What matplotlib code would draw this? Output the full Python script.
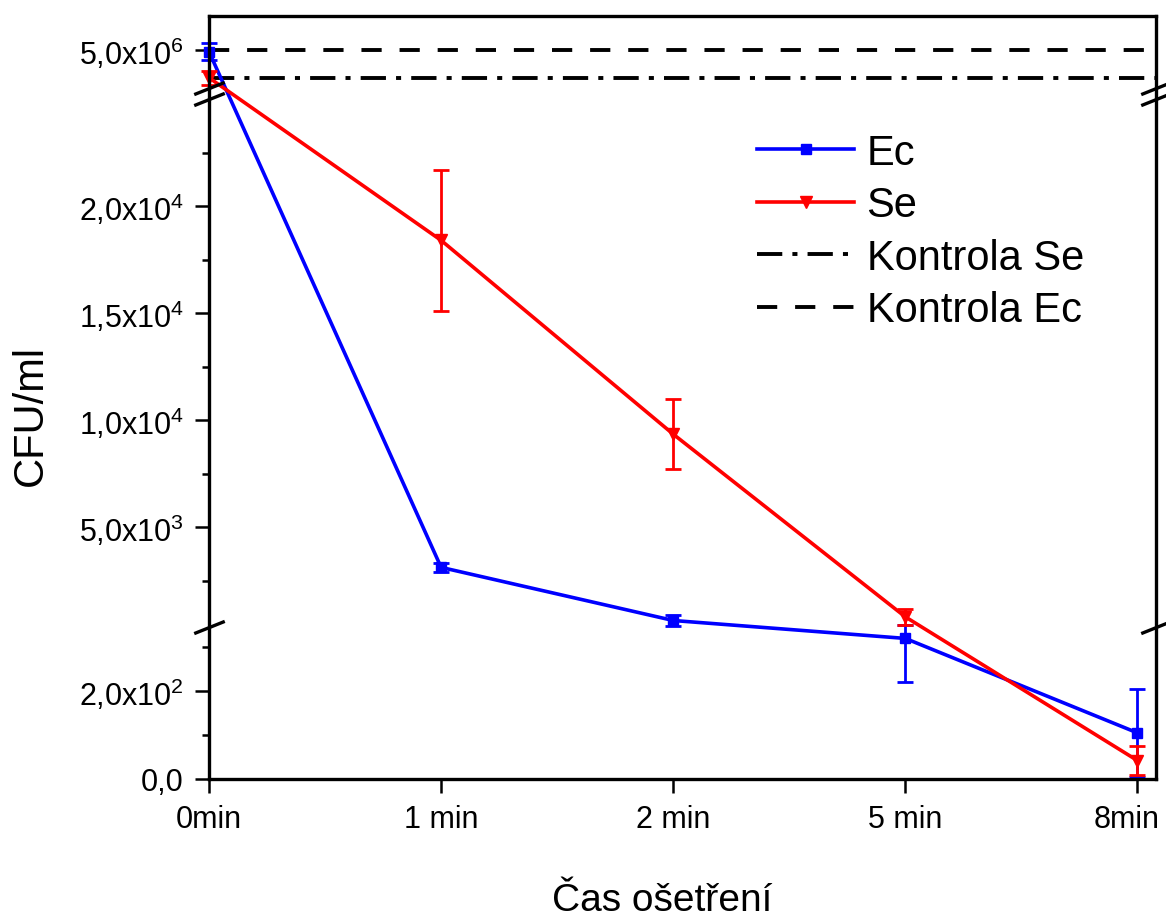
import numpy as np
import matplotlib
matplotlib.use('Agg')
from matplotlib import pyplot as plt
from matplotlib.transforms import blended_transform_factory, ScaledTranslation

plt.rcParams['font.family'] = ['Liberation Sans', 'DejaVu Sans']
plt.rcParams['mathtext.fontset'] = 'custom'
plt.rcParams['mathtext.rm'] = 'Liberation Sans'
plt.rcParams['mathtext.default'] = 'regular'

# data
times = ['0min', '1 min', '2 min', '5 min', '8min']
ec = [4.98e6, 3130, 650, 320, 105]
ec_err = [0.12e6, 200, 250, 100, 100]
se = [4.6e6, 18400, 9350, 820, 42]
se_err = [0.1e6, 3300, 1640, 380, 33]
kontrola_ec = 5.0e6
kontrola_se = 4.6e6

y_ticks = [0, 200, 5000, 10000, 15000, 20000, 5e6]
y_ticklabels = ['0,0', '2,0x10$^{2}$', '5,0x10$^{3}$', '1,0x10$^{4}$',
                '1,5x10$^{4}$', '2,0x10$^{4}$', '5,0x10$^{6}$']
y_minor = [100, 300, 2500, 7500, 12500, 17500, 22500]

# broken y axis: data value -> position (px from bottom of frame)
brk_data = [0, 346, 25000, 4.45e6, 5.5e6]
brk_pos = [0, 152, 680, 691, 763]


def forward(v):
    return np.interp(v, brk_data, brk_pos)


def inverse(u):
    return np.interp(u, brk_pos, brk_data)


fig = plt.figure(figsize=(11.66, 9.2), dpi=100)
ax = fig.add_axes([209 / 1166, 1 - 780 / 920, (1156 - 209) / 1166, (780 - 17) / 920])
ax.set_yscale('function', functions=(forward, inverse))
ax.set_ylim(0, 5.5e6)
x = np.arange(len(times))
ax.set_xlim(0, 4.08)

# kontrola lines
ax.axhline(kontrola_se, color='k', lw=2.8, dashes=(6.5, 2.6, 1.3, 2.6), label='Kontrola Se')
ax.axhline(kontrola_ec, color='k', lw=2.8, dashes=(5.2, 4.6), label='Kontrola Ec')

# series
ax.errorbar(x, ec, yerr=ec_err, fmt='none', ecolor='#0000ff', elinewidth=2.0,
            capsize=6, capthick=2.0, clip_on=False)
ax.plot(x, ec, color='#0000ff', lw=2.6, marker='s', ms=6.5, label='Ec', clip_on=False)
ax.errorbar(x, se, yerr=se_err, fmt='none', ecolor='#ff0000', elinewidth=2.0,
            capsize=6, capthick=2.0, clip_on=False)
ax.plot(x, se, color='#ff0000', lw=2.6, marker='v', ms=8, label='Se', clip_on=False)

# axes styling
for s in ax.spines.values():
    s.set_linewidth(2.4)
ax.set_yticks(y_ticks)
ax.set_yticklabels(y_ticklabels)
ax.set_yticks(y_minor, minor=True)
ax.set_xticks(x)
ax.set_xticklabels(times)
ax.tick_params(axis='both', which='major', direction='out', length=10, width=1.8,
               labelsize=22)
ax.tick_params(axis='y', which='major', pad=8)
ax.tick_params(axis='y', which='minor', direction='out', length=5, width=1.8)
ax.tick_params(axis='x', which='major', pad=8)
ax.tick_params(axis='x', which='minor', bottom=False)

# last x label sits at the figure edge, nudge it inside
last = ax.get_xticklabels()[-1]
last.set_transform(last.get_transform() + ScaledTranslation(-8 / 72, 0, fig.dpi_scale_trans))

# break marks
tr = blended_transform_factory(ax.transAxes, ax.transData)
slash = [(-1, -0.4), (1, 0.4)]
for yb in [brk_data[1], brk_data[2], brk_data[3]]:
    ax.plot([0, 1], [yb, yb], transform=tr, ls='none', marker=slash, ms=22,
            mew=2.4, color='k', clip_on=False)

ax.set_ylabel('CFU/ml', fontsize=30)
ax.yaxis.set_label_coords(-0.167, 0.478)
ax.set_xlabel('Čas ošetření', fontsize=28)
ax.xaxis.set_label_coords(0.479, -0.135)

handles, labels = ax.get_legend_handles_labels()
order = ['Ec', 'Se', 'Kontrola Se', 'Kontrola Ec']
hl = dict(zip(labels, handles))
ax.legend([hl[k] for k in order], order, loc='upper left', bbox_to_anchor=(757 / 1166, 1 - 134 / 920),
          bbox_transform=fig.transFigure, frameon=False, fontsize=30, handlelength=2.33,
          handletextpad=0.3, labelspacing=0.3, borderpad=0, borderaxespad=0, numpoints=1)

fig.savefig('out.png', dpi=100)
